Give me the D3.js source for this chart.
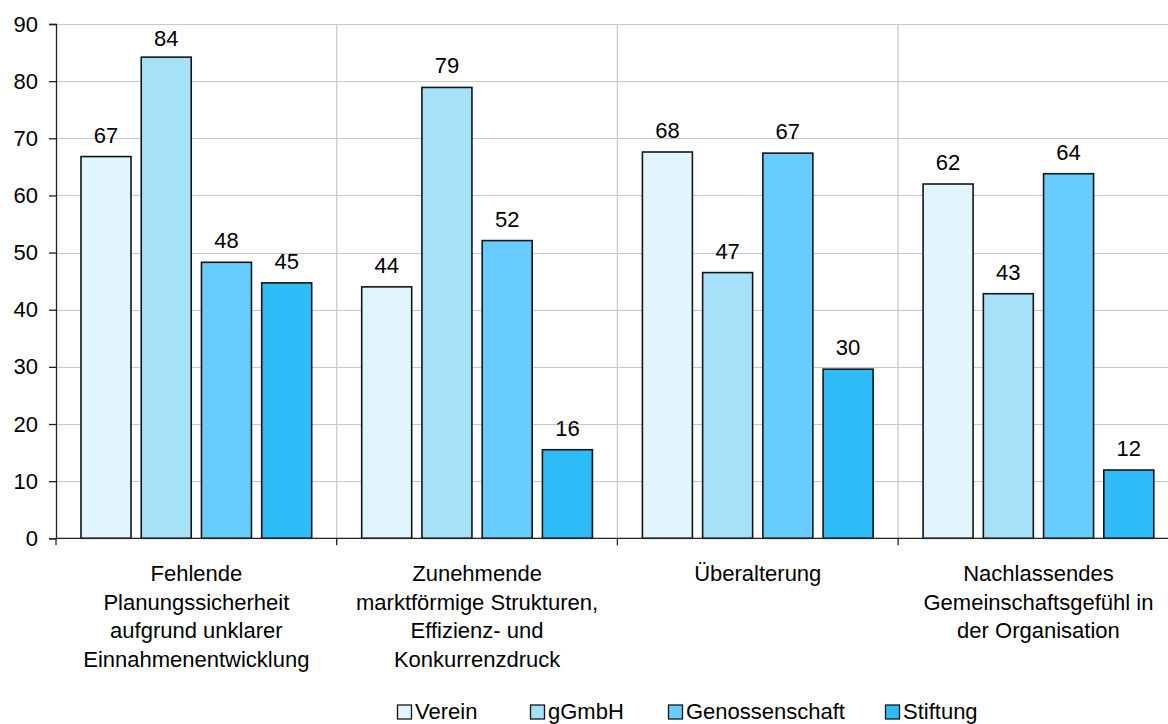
<!DOCTYPE html>
<html>
<head>
<meta charset="utf-8">
<script src="https://cdn.jsdelivr.net/npm/d3@7"></script>
<style>
  html, body { margin: 0; padding: 0; background: #fff; }
  svg { display: block; font-family: "Liberation Sans", Arial, sans-serif; }
</style>
</head>
<body>
<svg id="chart" width="1168" height="724"></svg>
<script>
const categories = [
  ["Fehlende", "Planungssicherheit", "aufgrund unklarer", "Einnahmenentwicklung"],
  ["Zunehmende", "marktförmige Strukturen,", "Effizienz- und", "Konkurrenzdruck"],
  ["Überalterung"],
  ["Nachlassendes", "Gemeinschaftsgefühl in", "der Organisation"]
];
const seriesNames = ["Verein", "gGmbH", "Genossenschaft", "Stiftung"];
const verein = [66.8, 44.0, 67.6, 62.0];
const gGmbH = [84.2, 78.9, 46.5, 42.8];
const genossenschaft = [48.3, 52.1, 67.4, 63.8];
const stiftung = [44.7, 15.5, 29.6, 11.95];
const seriesValues = [verein, gGmbH, genossenschaft, stiftung];
const seriesColors = ["#E1F5FE", "#A6E1FA", "#66CDFE", "#2EBBF8"];
const yTicks = [0, 10, 20, 30, 40, 50, 60, 70, 80, 90];

(function () {
const svg = d3.select("#chart");
const mLeft = 56, mTop = 24, mBottom = 538.3, bandW = 280.7;
const catIdx = categories.map((c, i) => i);

const x0 = d3.scaleBand().domain(catIdx).range([mLeft, mLeft + bandW * 4]).padding(0);
const x1 = d3.scaleBand().domain(seriesNames).range([0, x0.bandwidth()])
  .paddingInner(0.17).paddingOuter(0.415);
const y = d3.scaleLinear().domain([0, 90]).range([mBottom, mTop]);

// horizontal gridlines
svg.append("g").selectAll("line").data(yTicks.filter(d => d > 0)).join("line")
  .attr("x1", mLeft).attr("x2", 1168)
  .attr("y1", d => Math.round(y(d)) + 0.5).attr("y2", d => Math.round(y(d)) + 0.5)
  .attr("stroke", "#C8C8C8").attr("stroke-width", 1.2);

// vertical gridlines at category boundaries
svg.append("g").selectAll("line").data(catIdx.slice(1)).join("line")
  .attr("x1", d => x0(d)).attr("x2", d => x0(d))
  .attr("y1", mTop).attr("y2", mBottom)
  .attr("stroke", "#C8C8C8").attr("stroke-width", 1.2);

// y axis
const yAxis = d3.axisLeft(y).tickValues(yTicks).tickSize(7).tickPadding(11).tickFormat(d3.format("d"));
const gy = svg.append("g").attr("transform", `translate(${mLeft},0)`).call(yAxis);
gy.select(".domain").attr("stroke", "#222").attr("stroke-width", 1.3);
gy.selectAll(".tick line").attr("stroke", "#222").attr("stroke-width", 1.3);
gy.selectAll(".tick text").attr("font-size", 22).attr("fill", "#000")
  .attr("font-family", "'Liberation Sans', Arial, sans-serif");

// bars
const groups = svg.append("g").selectAll("g").data(catIdx).join("g")
  .attr("transform", d => `translate(${x0(d)},0)`);

groups.selectAll("rect").data(ci => seriesNames.map((s, si) => ({ s, si, v: seriesValues[si][ci] })))
  .join("rect")
  .attr("x", d => x1(d.s))
  .attr("y", d => y(d.v))
  .attr("width", x1.bandwidth())
  .attr("height", d => y(0) - y(d.v))
  .attr("fill", d => seriesColors[d.si])
  .attr("stroke", "#151515").attr("stroke-width", 1.6);

groups.selectAll("text.val").data(ci => seriesNames.map((s, si) => ({ s, si, v: seriesValues[si][ci] })))
  .join("text").attr("class", "val")
  .attr("x", d => x1(d.s) + x1.bandwidth() / 2)
  .attr("y", d => Math.max(y(d.v) - 14, 46))
  .attr("text-anchor", "middle")
  .attr("font-size", 22).attr("fill", "#000")
  .text(d => Math.round(d.v));

// x axis
const xAxisG = svg.append("g");
xAxisG.append("line").attr("x1", mLeft).attr("x2", 1168).attr("y1", mBottom).attr("y2", mBottom)
  .attr("stroke", "#222").attr("stroke-width", 1.3);
xAxisG.selectAll("line.tk").data(catIdx).join("line").attr("class", "tk")
  .attr("x1", d => x0(d)).attr("x2", d => x0(d))
  .attr("y1", mBottom).attr("y2", mBottom + 7)
  .attr("stroke", "#222").attr("stroke-width", 1.3);

const labels = svg.append("g").selectAll("text").data(catIdx).join("text")
  .attr("x", d => x0(d) + x0.bandwidth() / 2)
  .attr("y", 581)
  .attr("text-anchor", "middle").attr("font-size", 22).attr("fill", "#000");
labels.selectAll("tspan").data(d => categories[d]).join("tspan")
  .attr("x", function () { return d3.select(this.parentNode).attr("x"); })
  .attr("dy", (d, i) => i === 0 ? 0 : 28.5)
  .text(d => d);

// legend
const legendX = [397, 530, 668, 885];
const lg = svg.append("g").selectAll("g").data(seriesNames).join("g")
  .attr("transform", (d, i) => `translate(${legendX[i]},0)`);
lg.append("rect").attr("x", 0.5).attr("y", 705).attr("width", 14).attr("height", 14)
  .attr("fill", (d, i) => seriesColors[i]).attr("stroke", "#151515").attr("stroke-width", 1.3);
lg.append("text").attr("x", 18).attr("y", 718.5).attr("font-size", 22).attr("fill", "#000").text(d => d);
})();
</script>
</body>
</html>
